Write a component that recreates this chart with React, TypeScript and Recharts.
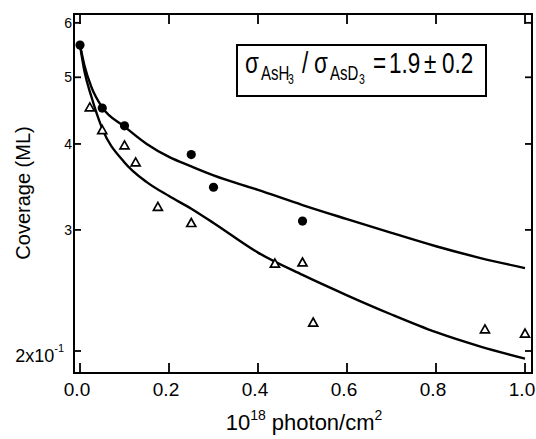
import React from 'react';
import { ComposedChart, Line, Scatter, XAxis, YAxis } from 'recharts';

// ---- data (coverage in ML, photon dose in 10^18 photon/cm^2) ----
const circleX = [0, 0.05, 0.1, 0.25, 0.3, 0.5];
const circleY = [0.557, 0.451, 0.425, 0.386, 0.346, 0.309];

const triangleX = [0.022, 0.05, 0.1, 0.125, 0.175, 0.25, 0.438, 0.5, 0.524, 0.91, 1.0];
const triangleY = [0.452, 0.419, 0.398, 0.376, 0.324, 0.307, 0.268, 0.269, 0.22, 0.215, 0.212];

const fitX = [0, 0.01, 0.025, 0.05, 0.1, 0.15, 0.2, 0.25, 0.3, 0.4, 0.5, 0.6, 0.7, 0.8, 0.9, 1.0];
const fitUpper = [0.557, 0.52, 0.485, 0.452, 0.424, 0.4, 0.383, 0.371, 0.36, 0.343, 0.326, 0.311, 0.297, 0.284, 0.273, 0.264];
const fitLower = [0.557, 0.51, 0.47, 0.421, 0.376, 0.352, 0.336, 0.322, 0.307, 0.278, 0.258, 0.241, 0.226, 0.213, 0.203, 0.195];

const xTicks = [0, 0.2, 0.4, 0.6, 0.8, 1.0];
const xTickLabels = ['0.0', '0.2', '0.4', '0.6', '0.8', '1.0'];
const yTicks = [0.2, 0.3, 0.4, 0.5, 0.6];
const yTickLabels = ['2x10', '3', '4', '5', '6'];
const yTickExponents = ['-1', '', '', '', ''];

const xDomain = [-0.0135, 1.0157];
const yDomain = [0.1858, 0.618];

const zip = (xs: number[], ys: number[]) => xs.map((x, i) => ({ x, y: ys[i] }));
const circleData = zip(circleX, circleY);
const triangleData = zip(triangleX, triangleY);
const upperData = zip(fitX, fitUpper);
const lowerData = zip(fitX, fitLower);

// ---- layout ----
const W = 536;
const H = 439;
const M_TOP = 14;
const M_RIGHT = 4;
const Y_AXIS_W = 74;
const X_AXIS_H = 66;
const PLOT_W = W - Y_AXIS_W - M_RIGHT;
const PLOT_H = H - M_TOP - X_AXIS_H;

const FONT = '"Liberation Sans", Arial, Helvetica, sans-serif';

// bottom tick (with mirrored inward tick on the top frame edge)
const BottomTick = (p: any) => {
  const { x, y, index } = p;
  return (
    <g>
      <line x1={x} y1={y} x2={x} y2={y - 10} stroke="#000" strokeWidth={1.8} />
      <line x1={x} y1={y - PLOT_H} x2={x} y2={y - PLOT_H + 10} stroke="#000" strokeWidth={1.8} />
      <text x={x - 3} y={y + 23} textAnchor="middle" fontSize={19} fontFamily={FONT} fill="#000">
        {xTickLabels[index]}
      </text>
    </g>
  );
};

// left tick (with mirrored inward tick on the right frame edge)
const LeftTick = (p: any) => {
  const { x, y, index } = p;
  const exp = yTickExponents[index];
  return (
    <g>
      <line x1={x} y1={y} x2={x + 7} y2={y} stroke="#000" strokeWidth={1.8} />
      <line x1={x + PLOT_W} y1={y} x2={x + PLOT_W - 7} y2={y} stroke="#000" strokeWidth={1.8} />
      {exp ? (
        <text x={x - 10} y={y + 11} textAnchor="end" fontSize={18} fontFamily={FONT} fill="#000">
          {yTickLabels[index]}
          <tspan fontSize={11} dy={-10}>{exp}</tspan>
        </text>
      ) : (
        <text x={x - 2} y={y + 5} textAnchor="end" fontSize={14} fontFamily={FONT} fill="#000">
          {yTickLabels[index]}
        </text>
      )}
    </g>
  );
};

const CircleShape = (p: any) => <circle cx={p.cx} cy={p.cy} r={4.6} fill="#000" />;
const TriangleShape = (p: any) => {
  const { cx, cy } = p;
  return (
    <path
      d={`M${cx},${cy - 4.5} L${cx + 4.5},${cy + 3.5} L${cx - 4.5},${cy + 3.5} Z`}
      fill="#fff"
      stroke="#000"
      strokeWidth={1.7}
    />
  );
};

const S = 0.75; // horizontal condensing for annotation text

export default function App() {
  return (
    <div style={{ position: 'absolute', left: 0, top: 0, width: W, height: H, background: '#fff' }}>
      <ComposedChart width={W} height={H} margin={{ top: M_TOP, right: M_RIGHT, left: 0, bottom: 0 }}>
        <XAxis
          xAxisId="bottom"
          type="number"
          dataKey="x"
          domain={xDomain}
          allowDataOverflow
          ticks={xTicks}
          interval={0}
          height={X_AXIS_H}
          tickSize={0}
          tickMargin={0}
          tickLine={false}
          axisLine={{ stroke: '#000', strokeWidth: 2 }}
          tick={BottomTick}
        />
        <YAxis
          yAxisId="left"
          type="number"
          dataKey="y"
          scale="log"
          domain={yDomain}
          allowDataOverflow
          ticks={yTicks}
          interval={0}
          width={Y_AXIS_W}
          tickSize={0}
          tickMargin={0}
          tickLine={false}
          axisLine={{ stroke: '#000', strokeWidth: 2 }}
          tick={LeftTick}
        />
        <Line
          xAxisId="bottom"
          yAxisId="left"
          data={upperData}
          dataKey="y"
          type="monotone"
          stroke="#000"
          strokeWidth={2.4}
          dot={false}
          activeDot={false}
          isAnimationActive={false}
        />
        <Line
          xAxisId="bottom"
          yAxisId="left"
          data={lowerData}
          dataKey="y"
          type="monotone"
          stroke="#000"
          strokeWidth={2.4}
          dot={false}
          activeDot={false}
          isAnimationActive={false}
        />
        <Scatter
          xAxisId="bottom"
          yAxisId="left"
          data={triangleData}
          dataKey="y"
          shape={TriangleShape}
          isAnimationActive={false}
        />
        <Scatter
          xAxisId="bottom"
          yAxisId="left"
          data={circleData}
          dataKey="y"
          shape={CircleShape}
          isAnimationActive={false}
        />
      </ComposedChart>
      <svg
        width={W}
        height={H}
        style={{ position: 'absolute', left: 0, top: 0, pointerEvents: 'none' }}
        fontFamily={FONT}
      >
        {/* plot frame */}
        <rect x={Y_AXIS_W} y={M_TOP} width={PLOT_W} height={PLOT_H} fill="none" stroke="#000" strokeWidth={2} />
        <text transform="rotate(-90)" x={-193} y={30} textAnchor="middle" fontSize={20} fill="#000">
          Coverage (ML)
        </text>
        <text x={304} y={430} textAnchor="middle" fontSize={22} fill="#000">
          10
          <tspan fontSize={14} dy={-10}>18</tspan>
          <tspan fontSize={22} dy={10}>{' photon/cm'}</tspan>
          <tspan fontSize={14} dy={-10}>2</tspan>
        </text>
        <rect x={237} y={45} width={249} height={51} fill="#fff" stroke="#000" strokeWidth={2} />
        <g transform={`translate(245,0) scale(${S},1)`}>
          <text fontSize={30} fill="#000">
            <tspan x={0} y={73}>σ</tspan>
            <tspan x={(261 - 245) / S} y={80} fontSize={20}>AsH</tspan>
            <tspan x={(288 - 245) / S} y={84} fontSize={14}>3</tspan>
            <tspan x={(302 - 245) / S} y={73}>/</tspan>
            <tspan x={(314 - 245) / S} y={73}>σ</tspan>
            <tspan x={(330 - 245) / S} y={80} fontSize={20}>AsD</tspan>
            <tspan x={(359 - 245) / S} y={84} fontSize={14}>3</tspan>
            <tspan x={(373 - 245) / S} y={73}>=</tspan>
            <tspan x={(389 - 245) / S} y={73}>1.9</tspan>
            <tspan x={(424 - 245) / S} y={73}>±</tspan>
            <tspan x={(442 - 245) / S} y={73}>0.2</tspan>
          </text>
        </g>
      </svg>
    </div>
  );
}
